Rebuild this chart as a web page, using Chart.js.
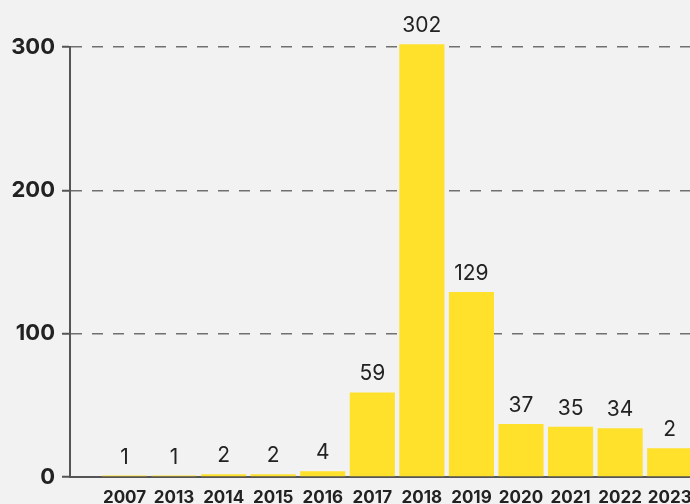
<!DOCTYPE html>
<html lang="en">
  <head>
    <meta charset="UTF-8" />
    <title>Bars per year</title>
    <script src="https://cdn.jsdelivr.net/npm/chart.js"></script>
    <style>
      html, body { margin: 0; padding: 0; background: #f2f2f2; }
      #wrap { width: 690px; height: 504px; position: relative; overflow: hidden; }
    </style>
  </head>
  <body>
    <div id="wrap"><canvas id="myChart"></canvas></div>

    <script>
      // DATA
      const years = ['2007', '2013', '2014', '2015', '2016', '2017', '2018', '2019', '2020', '2021', '2022', '2023'];
      const counts = [1, 1, 2, 2, 4, 59, 302, 129, 37, 35, 34, 20];
      const countLabels = ['1', '1', '2', '2', '4', '59', '302', '129', '37', '35', '34', '2'];
      const yTicks = [0, 100, 200, 300];

      const points = counts.map((v, i) => ({ x: i, y: v }));

      // LABELS ABOVE BARS
      const valueLabels = {
        id: 'valueLabels',
        afterDatasetsDraw(chart) {
          const ctx = chart.ctx;
          const meta = chart.getDatasetMeta(0);
          ctx.save();
          ctx.font = '21px Inter';
          ctx.fillStyle = '#222';
          ctx.textAlign = 'center';
          ctx.textBaseline = 'alphabetic';
          meta.data.forEach((bar, i) => {
            ctx.fillText(countLabels[i], bar.x, bar.y - 12);
          });
          ctx.restore();
        }
      };

      const data = {
        datasets: [{
          data: points,
          backgroundColor: '#ffe02a',
          borderWidth: 0,
          barPercentage: 0.91,
          categoryPercentage: 1,
          clip: false
        }]
      };

      const options = {
        responsive: true,
        maintainAspectRatio: false,
        animation: false,
        layout: { padding: { top: 47, left: 0, right: 0, bottom: 0 } },
        plugins: { legend: { display: false }, tooltip: { enabled: false } },
        scales: {
          x: {
            type: 'linear',
            min: -1.1,
            max: 11.41,
            offset: false,
            afterFit: (scale) => {
              scale.height = 27;
              scale.paddingLeft = 0;
              scale.paddingRight = 0;
            },
            grid: { display: false, drawTicks: false },
            border: { display: true, color: '#555', width: 2 },
            ticks: {
              stepSize: 1,
              includeBounds: false,
              autoSkip: false,
              maxRotation: 0,
              padding: 11,
              color: '#222',
              font: { family: 'Inter', size: 17, weight: 'bold' },
              callback: (v) => years[v] !== undefined ? years[v] : ''
            }
          },
          y: {
            min: 0,
            max: 300,
            afterFit: (scale) => {
              scale.width = 70;
              scale.paddingTop = 0;
              scale.paddingBottom = 0;
            },
            afterBuildTicks: (scale) => { scale.ticks = yTicks.map(v => ({ value: v })); },
            grid: {
              color: '#707070',
              lineWidth: 1.5,
              tickLength: 8,
              tickColor: '#555',
              tickWidth: 2
            },
            border: { display: true, color: '#555', width: 2, dash: [11, 10] },
            ticks: {
              padding: 7,
              color: '#222',
              font: { family: 'Inter', size: 22, weight: 'bold' }
            }
          }
        }
      };

      // RENDERING THE CHART
      let myChart = new Chart(document.getElementById('myChart'), {
        type: 'bar',
        data: data,
        options: options,
        plugins: [valueLabels]
      });
    </script>
  </body>
</html>
